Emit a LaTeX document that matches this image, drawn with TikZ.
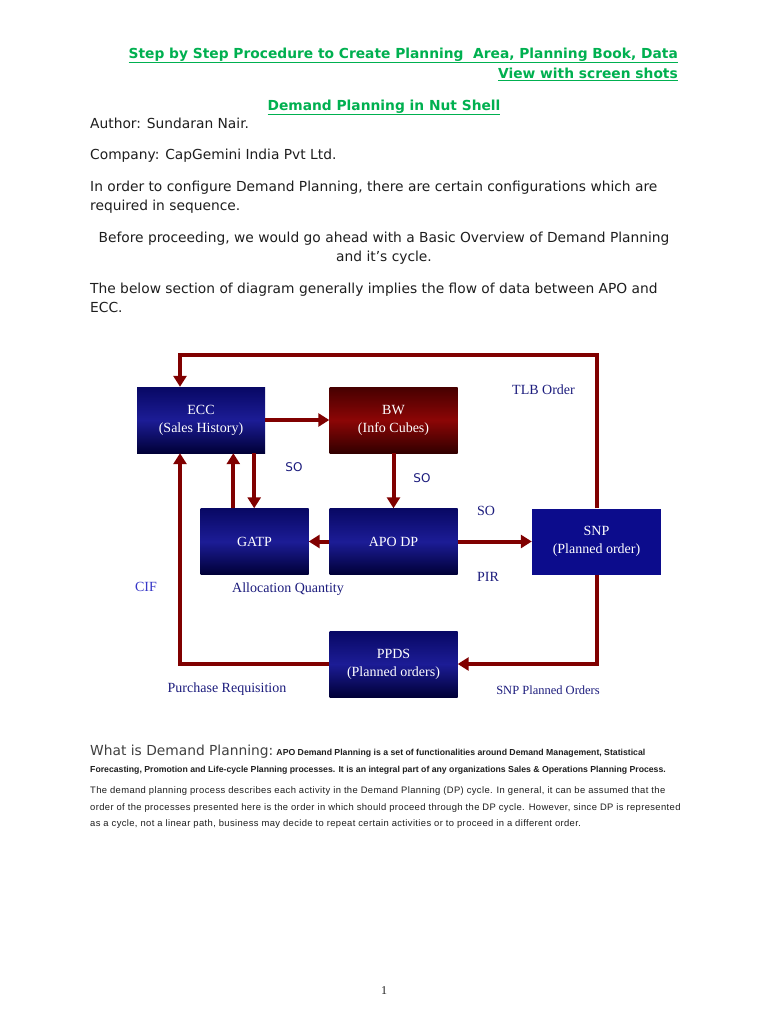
\documentclass[tikz,border=0pt]{standalone}
\usepackage{fontspec}
\setmainfont{DejaVu Sans}
\newfontfamily\bodyfont{DejaVu Sans}
\newfontfamily\boxfont{Liberation Serif}
\newfontfamily\notefont{Liberation Sans}
\newfontfamily\notewide[LetterSpace=4]{Liberation Sans}
\definecolor{flowred}{RGB}{128,0,0}
\definecolor{navytop}{RGB}{8,8,100}
\definecolor{navymid}{RGB}{28,28,150}
\definecolor{navybot}{RGB}{0,0,55}
\definecolor{bwtop}{RGB}{70,0,0}
\definecolor{bwmid}{RGB}{140,6,6}
\definecolor{bwbot}{RGB}{50,0,0}
\definecolor{snpblue}{RGB}{12,12,140}
\definecolor{lblblue}{RGB}{28,28,125}
\definecolor{cifblue}{RGB}{55,55,200}
\definecolor{headgreen}{RGB}{0,176,80}
\definecolor{bodygray}{RGB}{30,30,30}
\usetikzlibrary{arrows.meta,positioning}

\begin{document}
\begin{tikzpicture}[x=1pt,y=-1pt,
  flow/.style={draw=flowred,line width=4pt,-{Triangle[length=11pt,width=13pt]}},
  boxbase/.style={minimum width=128pt,minimum height=66pt,inner sep=0pt,align=center,
    text=white,font=\boxfont\fontsize{14}{18}\selectfont},
  navybox/.style={boxbase,top color=navytop,bottom color=navybot,middle color=navymid},
  redbox/.style={boxbase,top color=bwtop,bottom color=bwbot,middle color=bwmid},
  flatbox/.style={boxbase,fill=snpblue},
  lbl/.style={anchor=base,inner sep=0pt,text=lblblue,font=\boxfont\fontsize{14}{16}\selectfont},
  solbl/.style={lbl,font=\bodyfont\fontsize{12}{14}\selectfont},
  body/.style={anchor=north west,inner sep=0pt,align=left,text=bodygray,
    font=\bodyfont\fontsize{13.8}{19}\selectfont},
  note/.style={anchor=north west,inner sep=0pt,align=left,text=bodygray,
    font=\notefont\fontsize{8.7}{16.5}\selectfont}]
  \useasboundingbox[fill=white] (0,0) rectangle (768,1024);

  % Header
  \node[anchor=north east,inner sep=0pt,align=right,text=headgreen,
    font=\bodyfont\bfseries\fontsize{13.8}{20}\selectfont] (title) at (678,47.5)
    {\underline{Step by Step Procedure to Create Planning\ \ Area, Planning Book, Data}\\
     \underline{View with screen shots}};
  \node[anchor=north,inner sep=0pt,text=headgreen,
    font=\bodyfont\bfseries\fontsize{13.8}{20}\selectfont] (subtitle) at (384,99.5)
    {\underline{Demand Planning in Nut Shell}};

  % Intro text
  \node[body] (author) at (90,117.5) {Author: Sundaran Nair.};
  \node[body] (company) at (90,148.5) {Company: CapGemini India Pvt Ltd.};
  \node[body] (config) at (90,180.5)
    {In order to configure Demand Planning, there are certain configurations which are\\
     required in sequence.};
  \node[body,anchor=north,align=center] (overview) at (384,231.5)
    {Before proceeding, we would go ahead with a Basic Overview of Demand Planning\\
     and it’s cycle.};
  \node[body] (flowtext) at (90,282.5)
    {The below section of diagram generally implies the flow of data between APO and\\
     ECC.};

  % Boxes
  \node[navybox] (ecc) at (201,420) {ECC\\(Sales History)};
  \node[redbox] (bw) at (393.5,420) {BW\\(Info Cubes)};
  \node[navybox,minimum width=108pt] (gatp) at (254.5,541.5) {GATP};
  \node[navybox] (apodp) at (393.5,541.5) {APO DP};
  \node[flatbox,minimum width=129pt] (snp) at (596.5,541.5) {SNP\\(Planned order)};
  \node[navybox] (ppds) at (393.5,664) {PPDS\\(Planned orders)};

  % Loop corner
  \coordinate (loopcorner) at (180,355);

  % Arrows
  \draw[flow] (snp.north) |- (loopcorner) -- (loopcorner |- ecc.north);
  \draw[flow] (ecc.east) -- (bw.west);
  \draw[flow] (bw.south) -- (apodp.north);
  \draw[flow] ([xshift=-11pt]ecc.south east) -- ([xshift=-11pt]ecc.south east |- gatp.north);
  \draw[flow] ([xshift=33pt]gatp.north west) -- ([xshift=33pt]gatp.north west |- ecc.south);
  \draw[flow] (apodp.west) -- (gatp.east);
  \draw[flow] (apodp.east) -- (snp.west);
  \draw[flow] (snp.south) |- (ppds.east);
  \draw[flow] (ppds.west) -| (loopcorner |- ecc.south);

  % Labels
  \node[lbl] (tlb) at (543.5,394.7) {TLB Order};
  \node[solbl] (so1) at (294,471.4) {SO};
  \node[solbl] (so2) at (422,482) {SO};
  \node[lbl] (so3) at (486,515.7) {SO};
  \node[lbl] (pir) at (488,581.7) {PIR};
  \node[lbl,text=cifblue] (cif) at (146,591.7) {CIF};
  \node[lbl] (alloc) at (288,592.7) {Allocation Quantity};
  \node[lbl] (purreq) at (227,692.7) {Purchase Requisition};
  \node[lbl,font=\boxfont\fontsize{12.5}{14}\selectfont] (snpord) at (548,694)
    {SNP Planned Orders};

  % Closing text
  \node[note] (whatis) at (90,745)
    {{\bodyfont\color{bodygray!85}\fontsize{13.8}{16}\selectfont What is Demand Planning:}
     {\bfseries APO Demand Planning is a set of functionalities around Demand Management, Statistical}\\
     {\bfseries Forecasting, Promotion and Life-cycle Planning processes. It is an integral part of any organizations Sales \& Operations Planning Process.}};
  \node[note,font=\notewide\fontsize{9.4}{16.5}\selectfont] (dpcycle) at (90,786.5)
    {The demand planning process describes each activity in the Demand Planning (DP) cycle. In general, it can be assumed that the\\
     order of the processes presented here is the order in which should proceed through the DP cycle. However, since DP is represented\\
     as a cycle, not a linear path, business may decide to repeat certain activities or to proceed in a different order.};

  % Page number
  \node[anchor=base,inner sep=0pt,text=bodygray,font=\boxfont\fontsize{12}{14}\selectfont]
    (pagenum) at (384,994) {1};
\end{tikzpicture}
\end{document}
